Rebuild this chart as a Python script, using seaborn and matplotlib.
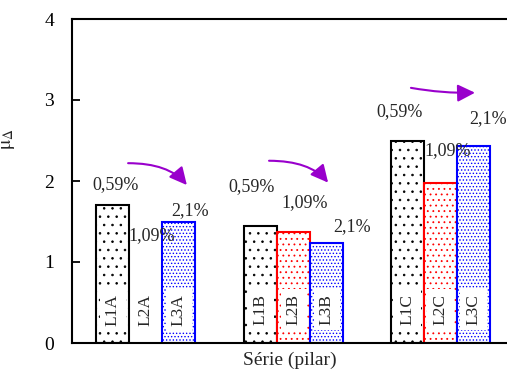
import numpy as np
import pandas as pd
import matplotlib
matplotlib.use('Agg')
import matplotlib.pyplot as plt
import seaborn as sns

# Data
groups = ['A', 'B', 'C']
series = ['L1', 'L2', 'L3']
l1_vals = [1.70, 1.44, 2.49]
l2_vals = [np.nan, 1.37, 1.97]   # L2A has no bar
l3_vals = [1.50, 1.23, 2.43]
pct_labels = ['0,59%', '1,09%', '2,1%']

# Layout (bar-width units on x)
group_centers = [2.24, 6.72, 11.16]
offsets = [-1, 0, 1]
colors = ['black', 'red', 'blue']
hatches = ['..', '...', '.....']

rows = []
for s, vals, off in zip(series, [l1_vals, l2_vals, l3_vals], offsets):
    for g, c, v in zip(groups, group_centers, vals):
        rows.append({'serie': s, 'grupo': g, 'pos': c + off, 'val': v})
df = pd.DataFrame(rows)

sns.set_style('ticks')
plt.rcParams['font.family'] = ['Liberation Serif', 'DejaVu Serif']
plt.rcParams['mathtext.fontset'] = 'stix'
plt.rcParams['hatch.linewidth'] = 0.6

fig = plt.figure(figsize=(5.07, 3.74), dpi=100)
ax = fig.add_axes([72 / 507, 31 / 374, 435 / 507, 324 / 374])

sns.barplot(data=df, x='pos', y='val', hue='serie', hue_order=series,
            palette={s: 'white' for s in series}, saturation=1,
            native_scale=True, dodge=False, width=1.0, errorbar=None,
            legend=False, ax=ax)

for cont, col, h in zip(ax.containers, colors, hatches):
    for bar in cont:
        bar.set_edgecolor(col)
        bar.set_hatch(h)
        bar.set_linewidth(1.5)

# bar names inside the bars
for _, r in df.iterrows():
    ax.text(r['pos'], 0.41, r['serie'] + r['grupo'], rotation=90,
            ha='center', va='center', fontsize=12.5, zorder=5,
            bbox=dict(boxstyle='square,pad=0.3', fc='white', ec='none'))

# percentage labels per group (x, y for L1, L2, L3)
pct_pos = [
    [(1.33, 1.95), (2.42, 1.33), (3.58, 1.63)],
    [(5.44, 1.93), (7.06, 1.73), (8.48, 1.44)],
    [(9.91, 2.86), (11.39, 2.38), (12.60, 2.77)],
]
for grp in pct_pos:
    for (x, y), lab in zip(grp, pct_labels):
        ax.text(x, y, lab, ha='center', va='center', fontsize=13, zorder=6)

# purple arrows
arrows = [((1.70, 2.22), (3.48, 1.95), 'angle3,angleA=0,angleB=-50'),
          ((5.97, 2.25), (7.76, 1.98), 'angle3,angleA=0,angleB=-50'),
          ((10.27, 3.15), (12.21, 3.09), 'arc3,rad=0.05')]
for start, tip, cs in arrows:
    ax.annotate('', xy=tip, xytext=start,
                arrowprops=dict(arrowstyle='-|>,head_length=0.7,head_width=0.35',
                                connectionstyle=cs, color='#9900cc', lw=1.5,
                                mutation_scale=15, shrinkA=0, shrinkB=0))

ax.set_xlim(0, 13.18)
ax.set_ylim(0, 4)
ax.set_yticks([0, 1, 2, 3, 4])
ax.set_xticks([])
ax.spines['right'].set_visible(False)
for sp in ['left', 'top', 'bottom']:
    ax.spines[sp].set_linewidth(1.5)
    ax.spines[sp].set_color('black')
ax.tick_params(axis='y', direction='in', length=6, width=1.3, pad=13,
               labelsize=14, colors='black')
ax.set_xlabel('Série (pilar)', fontsize=14, labelpad=6)
ax.set_ylabel(r'$\mathrm{\mu}_{\Delta}$', fontsize=14)
ax.yaxis.set_label_coords(-0.126, 0.63)

fig.savefig('out.png', dpi=100)
